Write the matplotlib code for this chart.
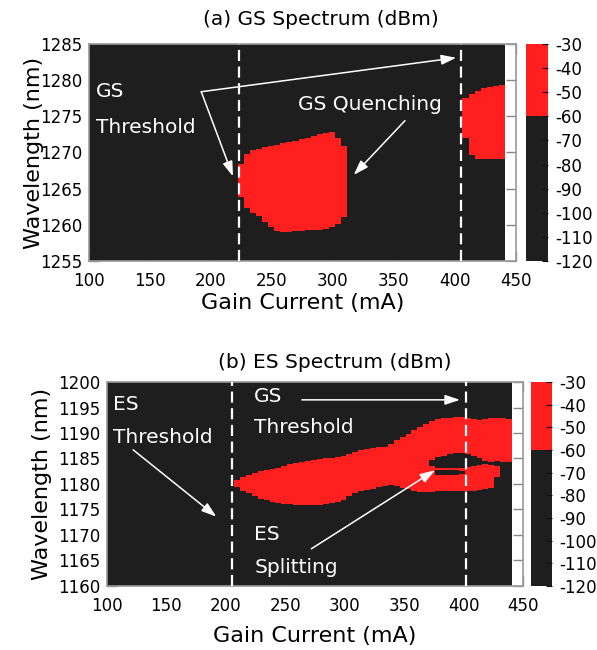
import numpy as np
import matplotlib
matplotlib.use("Agg")
import matplotlib.pyplot as plt
from matplotlib.colors import ListedColormap, BoundaryNorm

plt.rcParams["axes.unicode_minus"] = False

# ── measured spectra: red = power above -60 dBm, read per 5 mA column ───────
# (a) GS spectrum, main lasing island
GS_ISLAND_I  = [225, 230, 235, 240, 245, 250, 255, 260, 265, 270, 275, 280,
                285, 290, 295, 300, 305, 310]
GS_ISLAND_LO = [1263.8, 1262.3, 1261.6, 1261.2, 1260.4, 1259.7, 1259.1, 1259.0,
                1259.0, 1259.1, 1259.1, 1259.2, 1259.2, 1259.3, 1259.4, 1259.6,
                1260.0, 1261.0]
GS_ISLAND_HI = [1268.3, 1269.8, 1270.3, 1270.5, 1270.7, 1270.8, 1271.0, 1271.2,
                1271.4, 1271.6, 1271.8, 1272.0, 1272.2, 1272.5, 1272.7, 1272.8,
                1272.0, 1270.8]
# (a) GS spectrum, re-lasing above GS threshold
GS_RELASE_I  = [410, 415, 420, 425, 430, 435, 440]
GS_RELASE_LO = [1272.0, 1269.6, 1269.1, 1269.0, 1269.0, 1269.0, 1269.0]
GS_RELASE_HI = [1277.5, 1278.0, 1278.5, 1278.8, 1279.0, 1279.2, 1279.3]

# (b) ES spectrum envelope
ES_I  = [210, 215, 220, 225, 230, 235, 240, 245, 250, 255, 260, 265, 270, 275,
         280, 285, 290, 295, 300, 305, 310, 315, 320, 325, 330, 335, 340, 345,
         350, 355, 360, 365, 370, 375, 380, 385, 390, 395, 400, 405, 410, 415,
         420, 425, 430, 435, 440]
ES_LO = [1179.3, 1178.6, 1178.2, 1177.6, 1177.1, 1176.8, 1176.5, 1176.3, 1176.1,
         1176.0, 1175.9, 1175.9, 1175.8, 1175.9, 1175.9, 1176.0, 1176.2, 1176.5,
         1176.8, 1177.6, 1178.2, 1178.5, 1178.7, 1178.9, 1179.3, 1179.6, 1179.8,
         1179.5, 1179.2, 1179.0, 1178.5, 1178.3, 1178.3, 1178.4, 1178.5, 1178.5,
         1178.5, 1178.5, 1178.5, 1178.5, 1178.6, 1178.7, 1178.9, 1179.2, 1181.4,
         1184.3, 1184.3]
ES_HI = [1180.8, 1181.3, 1181.8, 1182.2, 1182.5, 1182.7, 1182.8, 1183.1, 1183.4,
         1183.8, 1184.1, 1184.3, 1184.5, 1184.7, 1184.8, 1185.0, 1185.1, 1185.2,
         1185.4, 1185.9, 1186.3, 1186.6, 1186.8, 1187.0, 1187.2, 1187.3, 1187.8,
         1188.5, 1189.1, 1189.8, 1190.6, 1191.2, 1191.8, 1192.3, 1192.6, 1192.8,
         1192.9, 1193.0, 1193.0, 1192.9, 1192.7, 1192.5, 1192.6, 1192.8, 1192.9,
         1192.8, 1192.7]
# (b) dark gaps inside the ES band (ES splitting)
ES_GAP_I  = [375, 380, 385, 390, 395, 400, 405, 410, 415, 420, 425, 430,
             380, 385, 390, 395, 400]
ES_GAP_LO = [1183.4, 1183.1, 1183.0, 1183.0, 1183.0, 1183.1, 1183.2, 1183.4,
             1183.6, 1183.9, 1183.7, 1183.5,
             1181.8, 1181.7, 1181.7, 1181.8, 1181.9]
ES_GAP_HI = [1184.6, 1185.2, 1185.5, 1185.8, 1186.0, 1186.1, 1185.9, 1185.5,
             1185.0, 1184.4, 1184.3, 1184.4,
             1182.6, 1182.7, 1182.7, 1182.6, 1182.5]

GS_THRESH_A = [223, 405]
ES_THRESH_B = [205, 402]
CBAR_TICKS = [-30, -40, -50, -60, -70, -80, -90, -100, -110, -120]

ON_DBM, OFF_DBM = -40, -100
BG = "#1e1e1e"
RED = "#ff1f1f"
cmap = ListedColormap([BG, RED])
norm = BoundaryNorm([-120, -60, -30], 2)


def build_map(wl_min, wl_max, blobs, gaps=()):
    currents = np.arange(100, 445, 5)
    wls = np.arange(wl_min, wl_max + 0.05, 0.1)
    z = np.full((len(wls), len(currents)), OFF_DBM, dtype=float)
    col = {c: k for k, c in enumerate(currents)}
    for cs, los, his in blobs:
        for c, lo, hi in zip(cs, los, his):
            z[(wls >= lo) & (wls <= hi), col[c]] = ON_DBM
    for cs, los, his in gaps:
        for c, lo, hi in zip(cs, los, his):
            z[(wls >= lo) & (wls <= hi), col[c]] = OFF_DBM
    return z


def draw_panel(fig, rect, crect, z, ylim, yticks, title, thresh,
               title_x, title_pad):
    ax = fig.add_axes(rect)
    ax.imshow(z, origin="lower", aspect="auto", cmap=cmap, norm=norm,
              interpolation="nearest", zorder=1,
              extent=[97.5, 440.5, ylim[0] - 0.05, ylim[1] + 0.05])
    ax.set_axisbelow(True)
    ax.set_xlim(100, 450)
    ax.set_ylim(*ylim)
    ax.set_xticks(range(100, 451, 50))
    ax.set_yticks(yticks)
    ax.tick_params(direction="in", length=7, width=1, color="#888888",
                   labelsize=12, right=True, top=True, pad=5)
    ax.tick_params(axis="x", pad=8)
    for s in ax.spines.values():
        s.set_color("#999999")
        s.set_linewidth(1.2)
    for x in thresh:
        ax.axvline(x, color="white", lw=1.6, dashes=(5, 2.5), zorder=3)
    ax.set_title(title, fontsize=14.5, x=title_x, pad=title_pad)

    cax = fig.add_axes(crect)
    cb = fig.colorbar(ax.images[0], cax=cax, spacing="proportional",
                      ticks=CBAR_TICKS)
    cb.outline.set_visible(False)
    cax.tick_params(direction="in", length=4, color="#111111", labelsize=12,
                    pad=5)
    return ax


def arrow(ax, start, end):
    ax.annotate("", xy=end, xytext=start, zorder=4,
                arrowprops=dict(arrowstyle="-|>,head_length=0.9,head_width=0.3",
                                color="white", lw=1.1, shrinkA=0, shrinkB=0))


fig = plt.figure(figsize=(5.97, 6.5), dpi=100)

# ── (a) GS spectrum ──────────────────────────────────────────────────────────
z_a = build_map(1255, 1285, [(GS_ISLAND_I, GS_ISLAND_LO, GS_ISLAND_HI),
                             (GS_RELASE_I, GS_RELASE_LO, GS_RELASE_HI)])
ax_a = draw_panel(fig, [0.1491, 0.5985, 0.7152, 0.3338],
                  [0.8811, 0.5985, 0.0369, 0.3338], z_a, (1255, 1285),
                  range(1255, 1286, 5), "(a) GS Spectrum (dBm)", GS_THRESH_A,
                  0.543, 14)
ax_a.set_xlabel("Gain Current (mA)", fontsize=16, labelpad=2)
ax_a.set_ylabel("Wavelength (nm)", fontsize=16, labelpad=-3)
txt = dict(color="white", fontsize=14.5, va="center", ha="left", zorder=4)
ax_a.text(106, 1278.4, "GS", **txt)
ax_a.text(106, 1273.4, "Threshold", **txt)
ax_a.text(271, 1276.7, "GS Quenching", **txt)
arrow(ax_a, (192, 1278.4), (401, 1283.1))
arrow(ax_a, (192, 1278.4), (218, 1266.7))
arrow(ax_a, (359, 1274.4), (317, 1266.9))

# ── (b) ES spectrum ──────────────────────────────────────────────────────────
z_b = build_map(1160, 1200, [(ES_I, ES_LO, ES_HI)],
                [(ES_GAP_I, ES_GAP_LO, ES_GAP_HI)])
ax_b = draw_panel(fig, [0.1792, 0.0985, 0.6968, 0.3138],
                  [0.8894, 0.0985, 0.0352, 0.3138], z_b, (1160, 1200),
                  range(1160, 1201, 5), "(b) ES Spectrum (dBm)", ES_THRESH_B,
                  0.548, 10)
ax_b.set_xlabel("Gain Current (mA)", fontsize=16, labelpad=8)
ax_b.set_ylabel("Wavelength (nm)", fontsize=16)
ax_b.text(105, 1195.5, "ES", **txt)
ax_b.text(105, 1189.2, "Threshold", **txt)
ax_b.text(224, 1197.1, "GS", **txt)
ax_b.text(224, 1191.0, "Threshold", **txt)
ax_b.text(224, 1170.0, "ES", **txt)
ax_b.text(224, 1163.7, "Splitting", **txt)
arrow(ax_b, (122, 1186.7), (192, 1173.6))
arrow(ax_b, (264, 1196.5), (397, 1196.5))
arrow(ax_b, (272, 1167.3), (376, 1182.7))

fig.savefig("out.png", dpi=100)
